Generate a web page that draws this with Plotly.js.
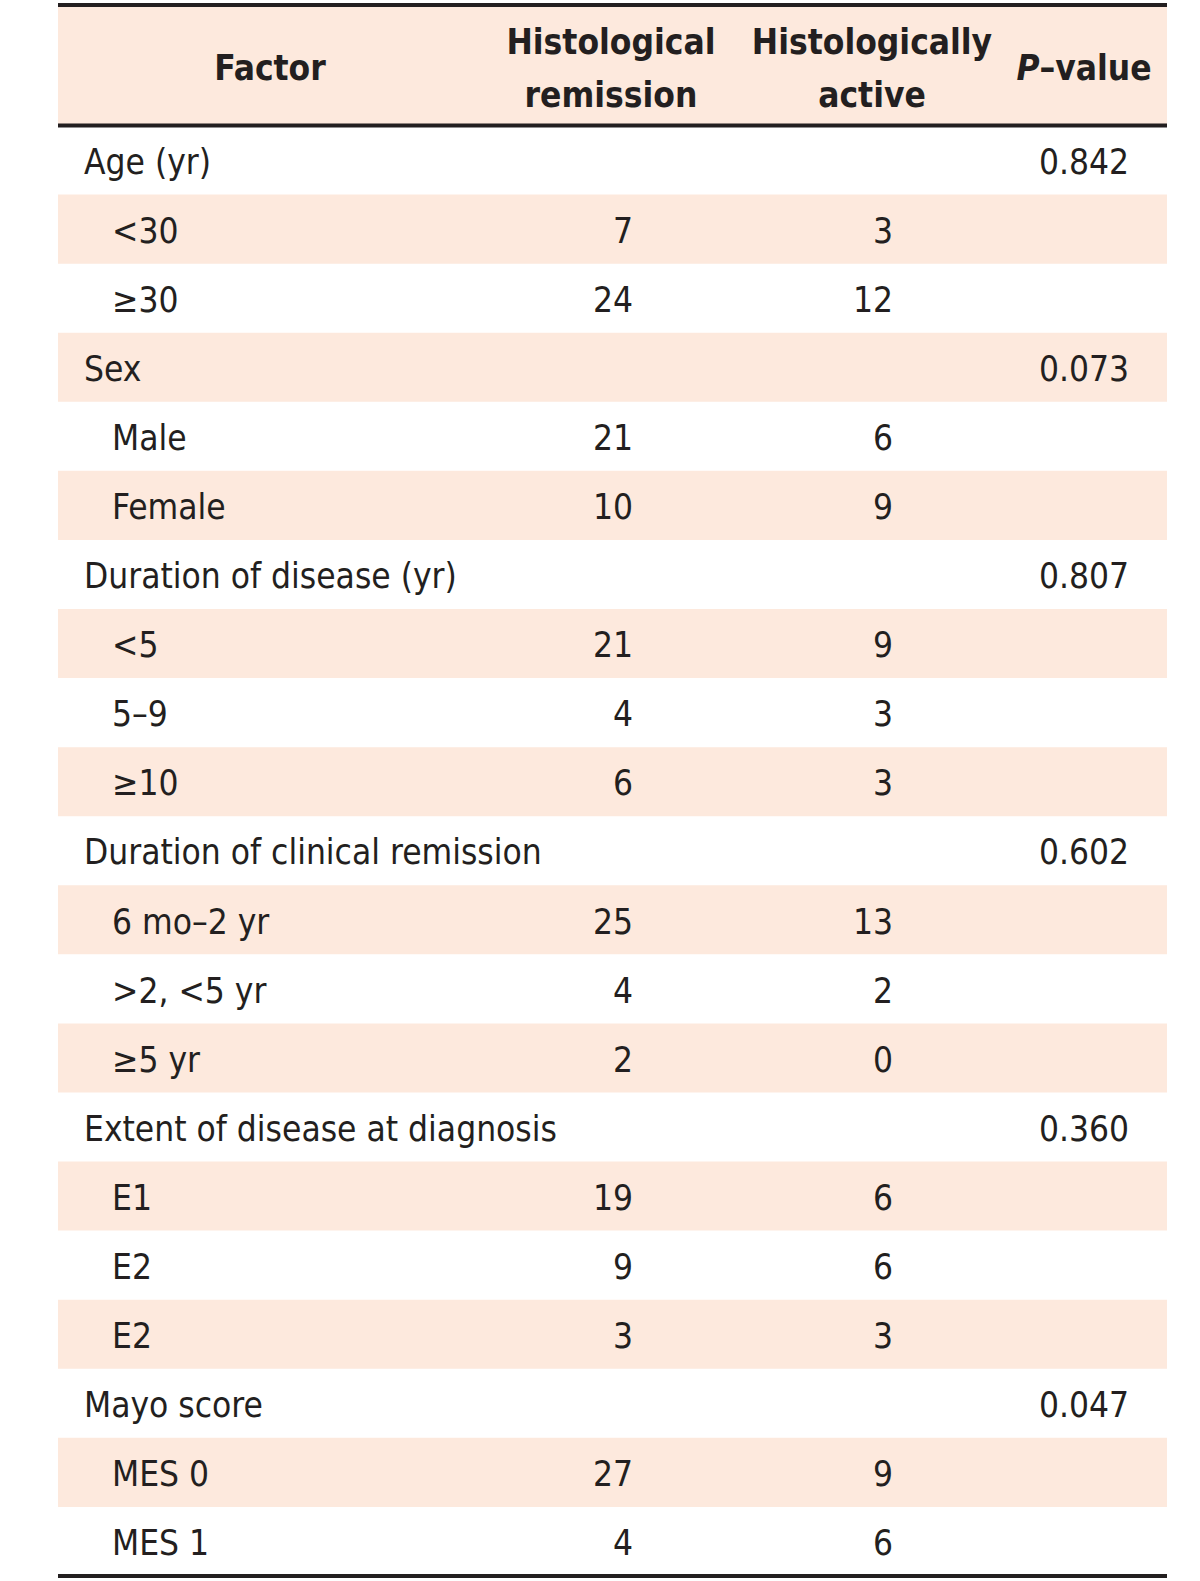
<!DOCTYPE html>
<html>
<head>
<meta charset="utf-8">
<script src="https://cdn.plot.ly/plotly-3.0.1.min.js"></script>
<style>html,body{margin:0;padding:0;background:#fff;}</style>
</head>
<body>
<div id="chart" style="width:1200px;height:1581px;"></div>
<script>
// ---- data ----
const headerLabels = ["Factor", "Histological<br>remission", "Histologically<br>active", "<i>P</i>–value"];
const factors = ["Age (yr)", "<30", "≥30", "Sex", "Male", "Female",
  "Duration of disease (yr)", "<5", "5–9", "≥10",
  "Duration of clinical remission", "6 mo–2 yr", ">2, <5 yr", "≥5 yr",
  "Extent of disease at diagnosis", "E1", "E2", "E2",
  "Mayo score", "MES 0", "MES 1"];
const isSubRow = [0,1,1,0,1,1,0,1,1,1,0,1,1,1,0,1,1,1,0,1,1];
const remission = ["", 7, 24, "", 21, 10, "", 21, 4, 6, "", 25, 4, 2, "", 19, 9, 3, "", 27, 4];
const active = ["", 3, 12, "", 6, 9, "", 9, 3, 3, "", 13, 2, 0, "", 6, 6, 3, "", 9, 6];
const pValues = ["0.842", "", "", "0.073", "", "", "0.807", "", "", "", "0.602", "", "", "",
  "0.360", "", "", "", "0.047", "", ""];

// ---- layout constants ----
const W = 1200, H = 1581;
const rowH = 69.07, headTopPx = 5, headBotPx = 125.5;
const pxToRow = p => (p - headBotPx) / rowH - 0.5;
const textDy = 5 / rowH;           // small downward nudge of text baselines
const tableX0 = 58, tableX1 = 1167;
const xGroup = 84, xSub = 112, xRem = 633, xAct = 893, xP = 1129;
const headCenters = [270, 611, 872, 1084];
const FONT = "'DejaVu Sans Condensed', 'Liberation Sans Narrow', 'Arial Narrow', sans-serif";
const FSIZE = 35;
const txtColor = "#231f20";
const shade = "#fde9dd";

const rows = factors.map((_, i) => i);
const traces = [];

// factor labels
traces.push({
  type: "scatter", mode: "text", hoverinfo: "skip",
  x: factors.map((_, i) => isSubRow[i] ? xSub : xGroup),
  y: rows.map(r => r + textDy),
  text: factors,
  textposition: "middle right",
  textfont: {family: FONT, size: FSIZE, color: txtColor}
});
// numeric columns (right aligned)
[[remission, xRem], [active, xAct], [pValues, xP]].forEach(([arr, xx]) => {
  traces.push({
    type: "scatter", mode: "text", hoverinfo: "skip",
    x: arr.map(() => xx), y: rows.map(r => r + textDy),
    text: arr.map(v => String(v)),
    textposition: "middle left",
    textfont: {family: FONT, size: FSIZE, color: txtColor}
  });
});
// header
const headLines = headerLabels.map(h => h.split("<br>"));
const hx = [], hy = [], ht = [];
headLines.forEach((lines, c) => {
  if (lines.length === 1) {
    hx.push(headCenters[c]); hy.push(pxToRow(66) + textDy); ht.push("<b>" + lines[0] + "</b>");
  } else {
    hx.push(headCenters[c]); hy.push(pxToRow(40) + textDy); ht.push("<b>" + lines[0] + "</b>");
    hx.push(headCenters[c]); hy.push(pxToRow(93) + textDy); ht.push("<b>" + lines[1] + "</b>");
  }
});
traces.push({
  type: "scatter", mode: "text", hoverinfo: "skip",
  x: hx, y: hy, text: ht, textposition: "middle center",
  textfont: {family: FONT, size: FSIZE, color: txtColor}
});

// shapes: header fill, row shading, rules
const shapes = [];
shapes.push({type: "rect", xref: "x", yref: "y", x0: tableX0, x1: tableX1,
  y0: pxToRow(headTopPx), y1: -0.5, fillcolor: shade, line: {width: 0}, layer: "below"});
rows.forEach(i => {
  if (i % 2 === 1) shapes.push({type: "rect", xref: "x", yref: "y", x0: tableX0, x1: tableX1,
    y0: i - 0.5, y1: i + 0.5, fillcolor: shade, line: {width: 0}, layer: "below"});
});
[pxToRow(headTopPx), -0.5, factors.length - 0.5].forEach(yy => {
  shapes.push({type: "line", xref: "x", yref: "y", x0: tableX0, x1: tableX1, y0: yy, y1: yy,
    line: {color: "#231f20", width: 4}});
});

const layout = {
  width: W, height: H,
  margin: {l: 0, r: 0, t: 0, b: 0},
  paper_bgcolor: "#fff", plot_bgcolor: "#fff",
  showlegend: false,
  xaxis: {range: [0, W], visible: false, fixedrange: true},
  yaxis: {range: [pxToRow(H), pxToRow(0)], visible: false, fixedrange: true},
  shapes: shapes
};
Plotly.newPlot("chart", traces, layout, {displayModeBar: false, staticPlot: true});
</script>
</body>
</html>
